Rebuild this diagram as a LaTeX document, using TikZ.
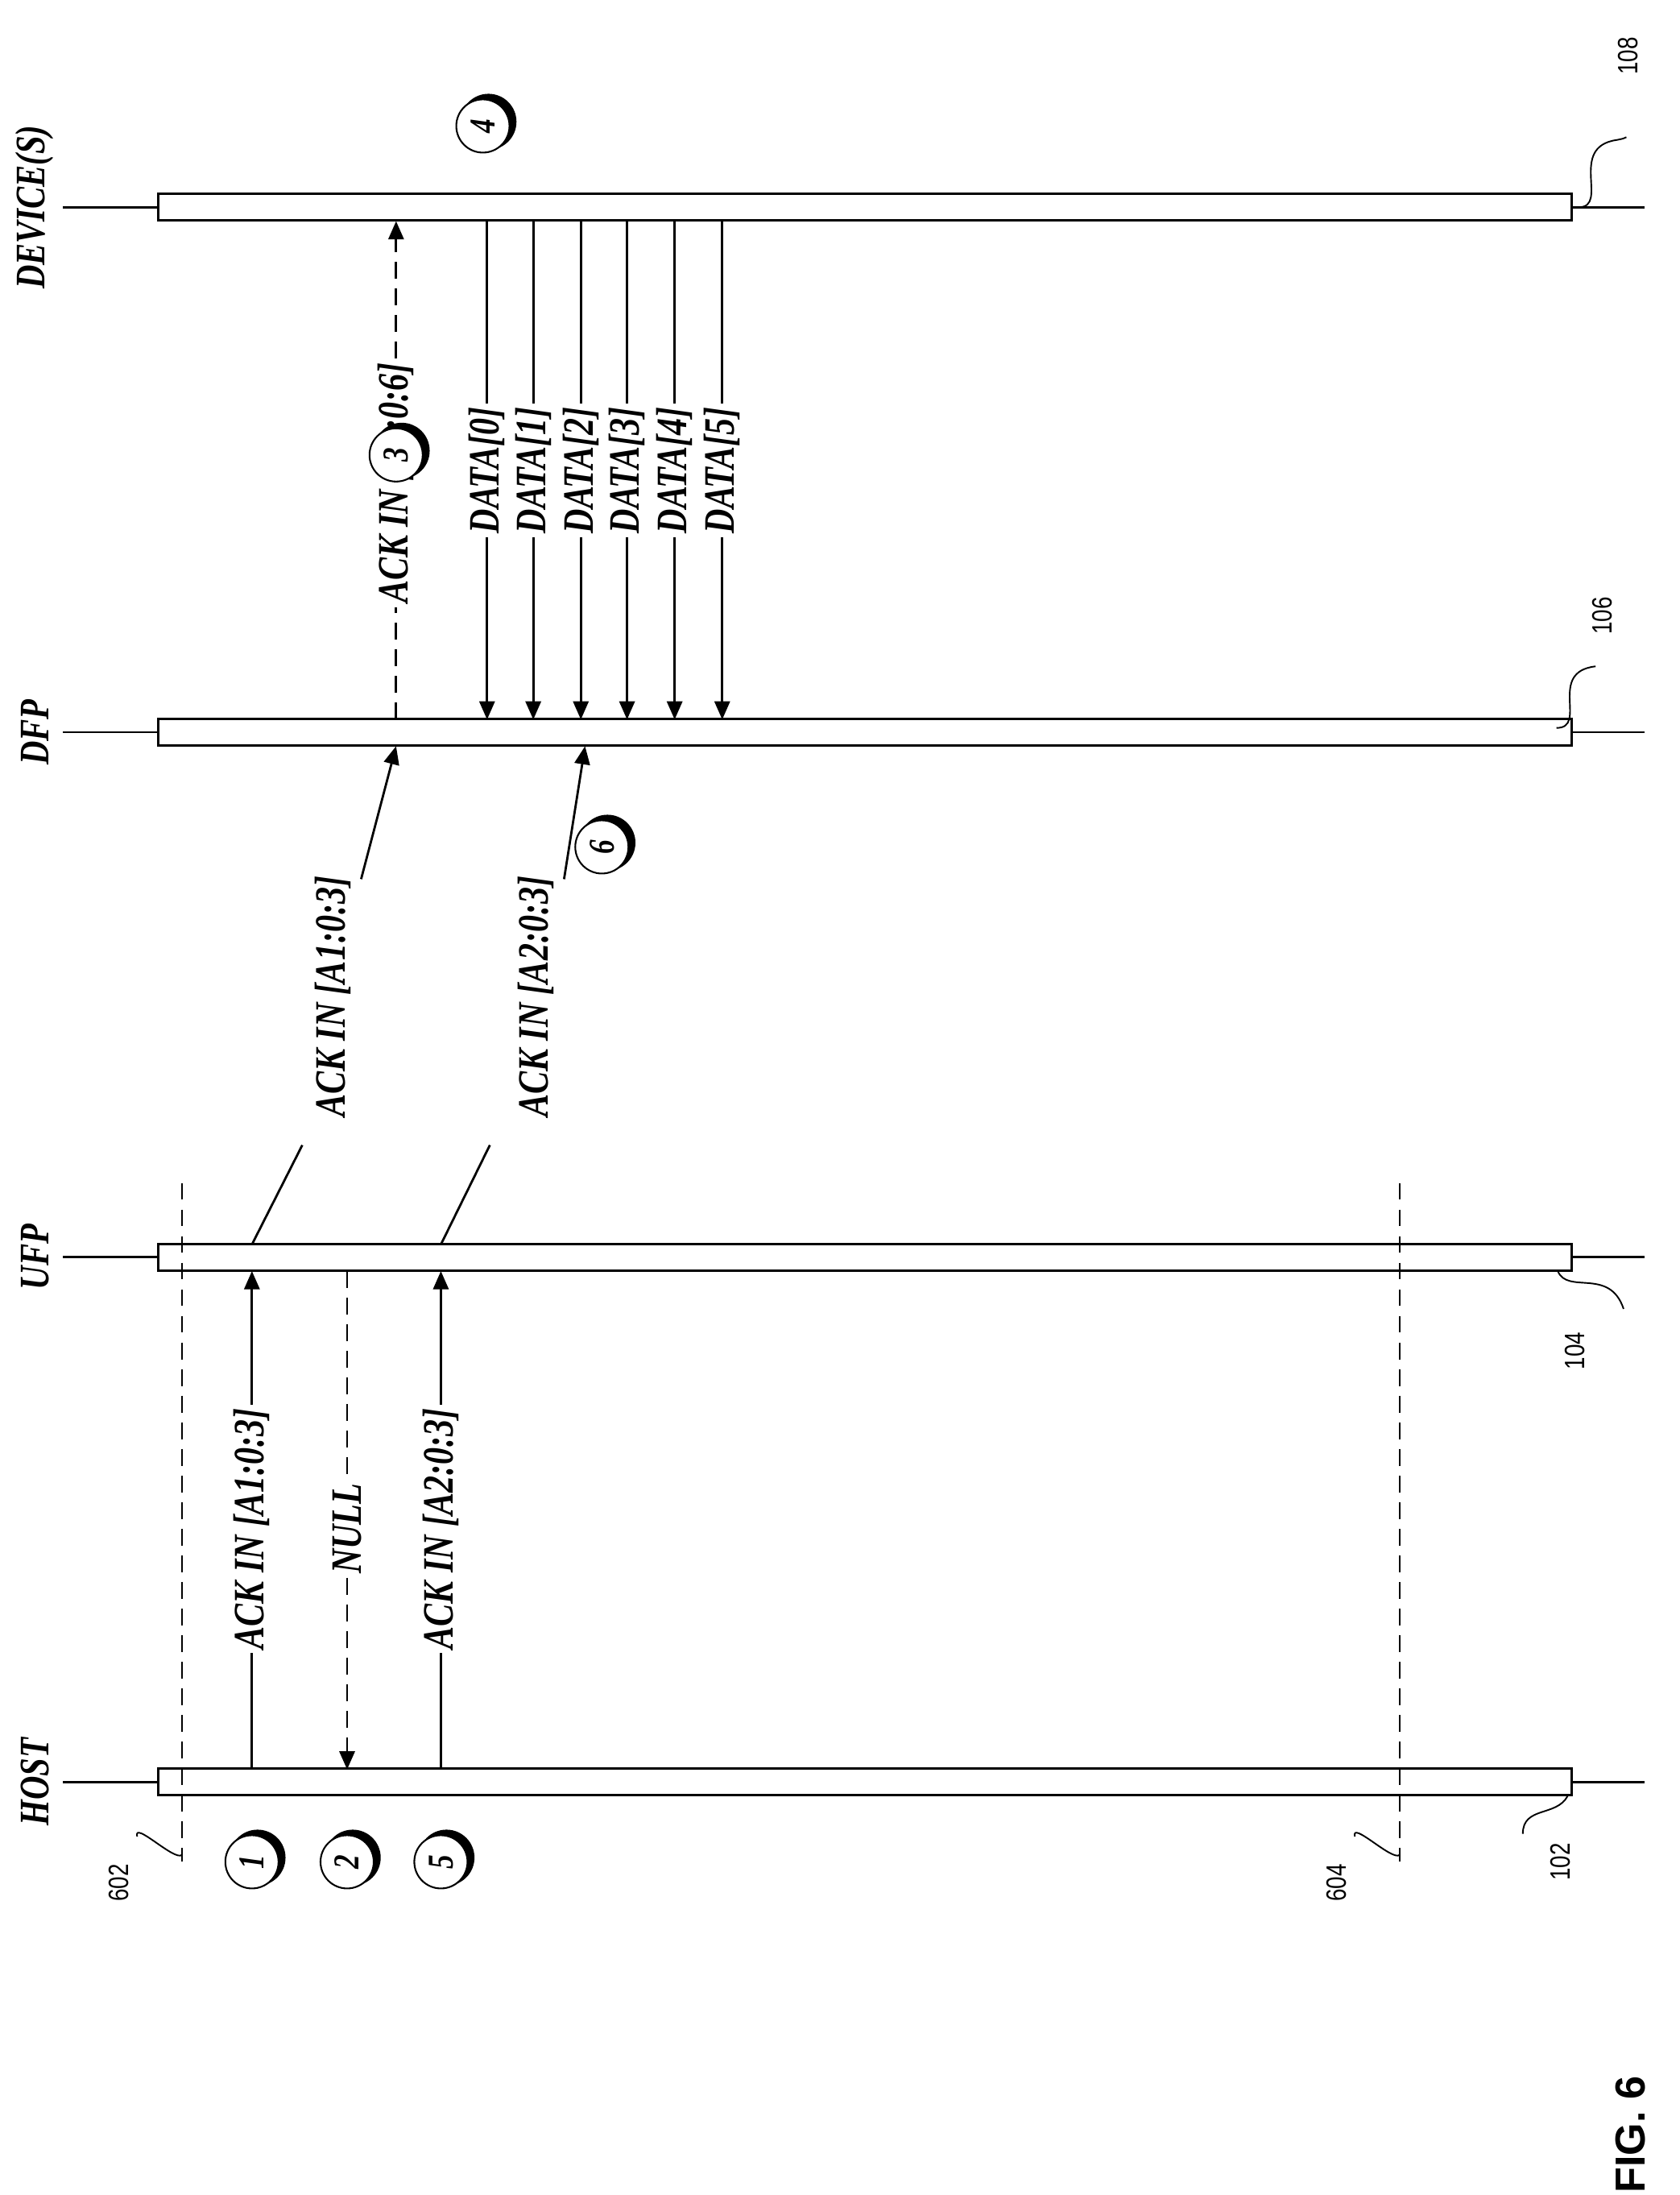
\documentclass[tikz,border=0pt]{standalone}
\usepackage{fontspec}
\setmainfont{Liberation Serif}[FakeStretch=0.78]
\newfontfamily\reffont{Liberation Sans}[FakeStretch=0.8]
\newfontfamily\figfont{Liberation Sans}
\usetikzlibrary{arrows.meta}
\begin{document}
\begin{tikzpicture}[x=1pt,y=-1pt,
  line width=1.6pt,
  lbl/.style={rotate=90,font=\fontsize{31}{31}\selectfont\bfseries\itshape,inner sep=2pt},
  lname/.style={rotate=90,font=\fontsize{30}{30}\selectfont\bfseries\itshape,inner sep=0pt},
  ref/.style={rotate=90,font=\fontsize{20}{20}\selectfont\reffont,inner sep=0pt},
  bar/.style={draw,fill=white,line width=1.6pt},
  arr/.style={-{Triangle[length=13pt,width=11pt]}},
  dsh/.style={dash pattern=on 12pt off 7pt}]
\useasboundingbox (0,0) rectangle (1200,1568);
% lifelines
\foreach \y/\n in {148/D,523/F,898/U,1273/H}{
  \draw (45,\y) -- (1175,\y);
  \node[bar,minimum width=1010pt,minimum height=19pt,inner sep=0pt] (\n) at (618,\y) {};
}
\node[lname] (nD) at (25,148) {DEVICE(S)};
\node[lname] (nF) at (25,523) {DFP};
\node[lname] (nU) at (25,898) {UFP};
\node[lname] (nH) at (25,1273) {HOST};
% dashed markers
\draw[dsh] (130,845) -- (130,1330);
\draw[dsh] (1000,845) -- (1000,1330);
% host <-> UFP
\node[lbl] (a1) at (180,1092) {ACK IN [A1:0:3]};
\draw (180,1264) -- (a1.west); \draw[arr] (a1.east) -- (180,908);
\node[lbl] (nl) at (248,1092) {NULL};
\draw[dsh] (248,908) -- (nl.east); \draw[dsh,arr] (nl.west) -- (248,1264);
\node[lbl] (a2) at (315,1092) {ACK IN [A2:0:3]};
\draw (315,1264) -- (a2.west); \draw[arr] (a2.east) -- (315,908);
% UFP -> DFP
\node[lbl] (b1) at (238,712) {ACK IN [A1:0:3]};
\draw (180,889) -- (216,818); \draw[arr] (258,628) -- (283,533);
\node[lbl] (b2) at (383,712) {ACK IN [A2:0:3]};
\draw (315,889) -- (350,818); \draw[arr] (403,628) -- (418,533);
% DFP -> device
\node[lbl] (c1) at (283,345) {ACK IN [A1:0:6]};
\draw[dsh] (283,514) -- (c1.west); \draw[dsh,arr] (c1.east) -- (283,158);
\foreach \i/\x in {0/348,1/381,2/415,3/448,4/482,5/516}{
  \node[lbl] (d\i) at (\x,336) {DATA[\i]};
  \draw (\x,158) -- (d\i.east); \draw[arr] (d\i.west) -- (\x,514);
}
% circled numbers
\foreach \n/\x/\y in {1/180/1330,2/248/1330,5/315/1330,3/283/325,4/345/90,6/430/605}{
  \fill (\x+4,\y-3) circle (20pt);
  \node[draw,fill=white,circle,minimum size=38pt,inner sep=0pt,line width=1.2pt,rotate=90,
    font=\fontsize{26}{26}\selectfont\bfseries\itshape] (k\n) at (\x,\y) {\n};
}
% reference numerals
\node[ref] (r108) at (1163,40) {108};
\draw[line width=1.1pt] (1128,148) .. controls (1150,148) and (1120,105) .. (1155,100) .. controls (1160,99) .. (1162,98);
\node[ref] (r106) at (1145,440) {106};
\draw[line width=1.1pt] (1112,520) .. controls (1135,520) and (1105,480) .. (1140,476);
\node[ref] (r104) at (1125,965) {104};
\draw[line width=1.1pt] (1113,908) .. controls (1120,925) and (1150,905) .. (1160,935);
\node[ref] (r102) at (1115,1330) {102};
\draw[line width=1.1pt] (1120,1283) .. controls (1112,1298) and (1088,1290) .. (1088,1310);
\node[ref] (r602) at (85,1345) {602};
\draw[line width=1.1pt] (130,1325) .. controls (125,1330) and (95,1300) .. (98,1312);
\node[ref] (r604) at (955,1345) {604};
\draw[line width=1.1pt] (1000,1325) .. controls (995,1330) and (965,1300) .. (968,1312);
\node[rotate=90,font=\fontsize{30}{30}\selectfont\figfont\bfseries,inner sep=0pt] (fig) at (1165,1525) {FIG. 6};
\end{tikzpicture}
\end{document}
